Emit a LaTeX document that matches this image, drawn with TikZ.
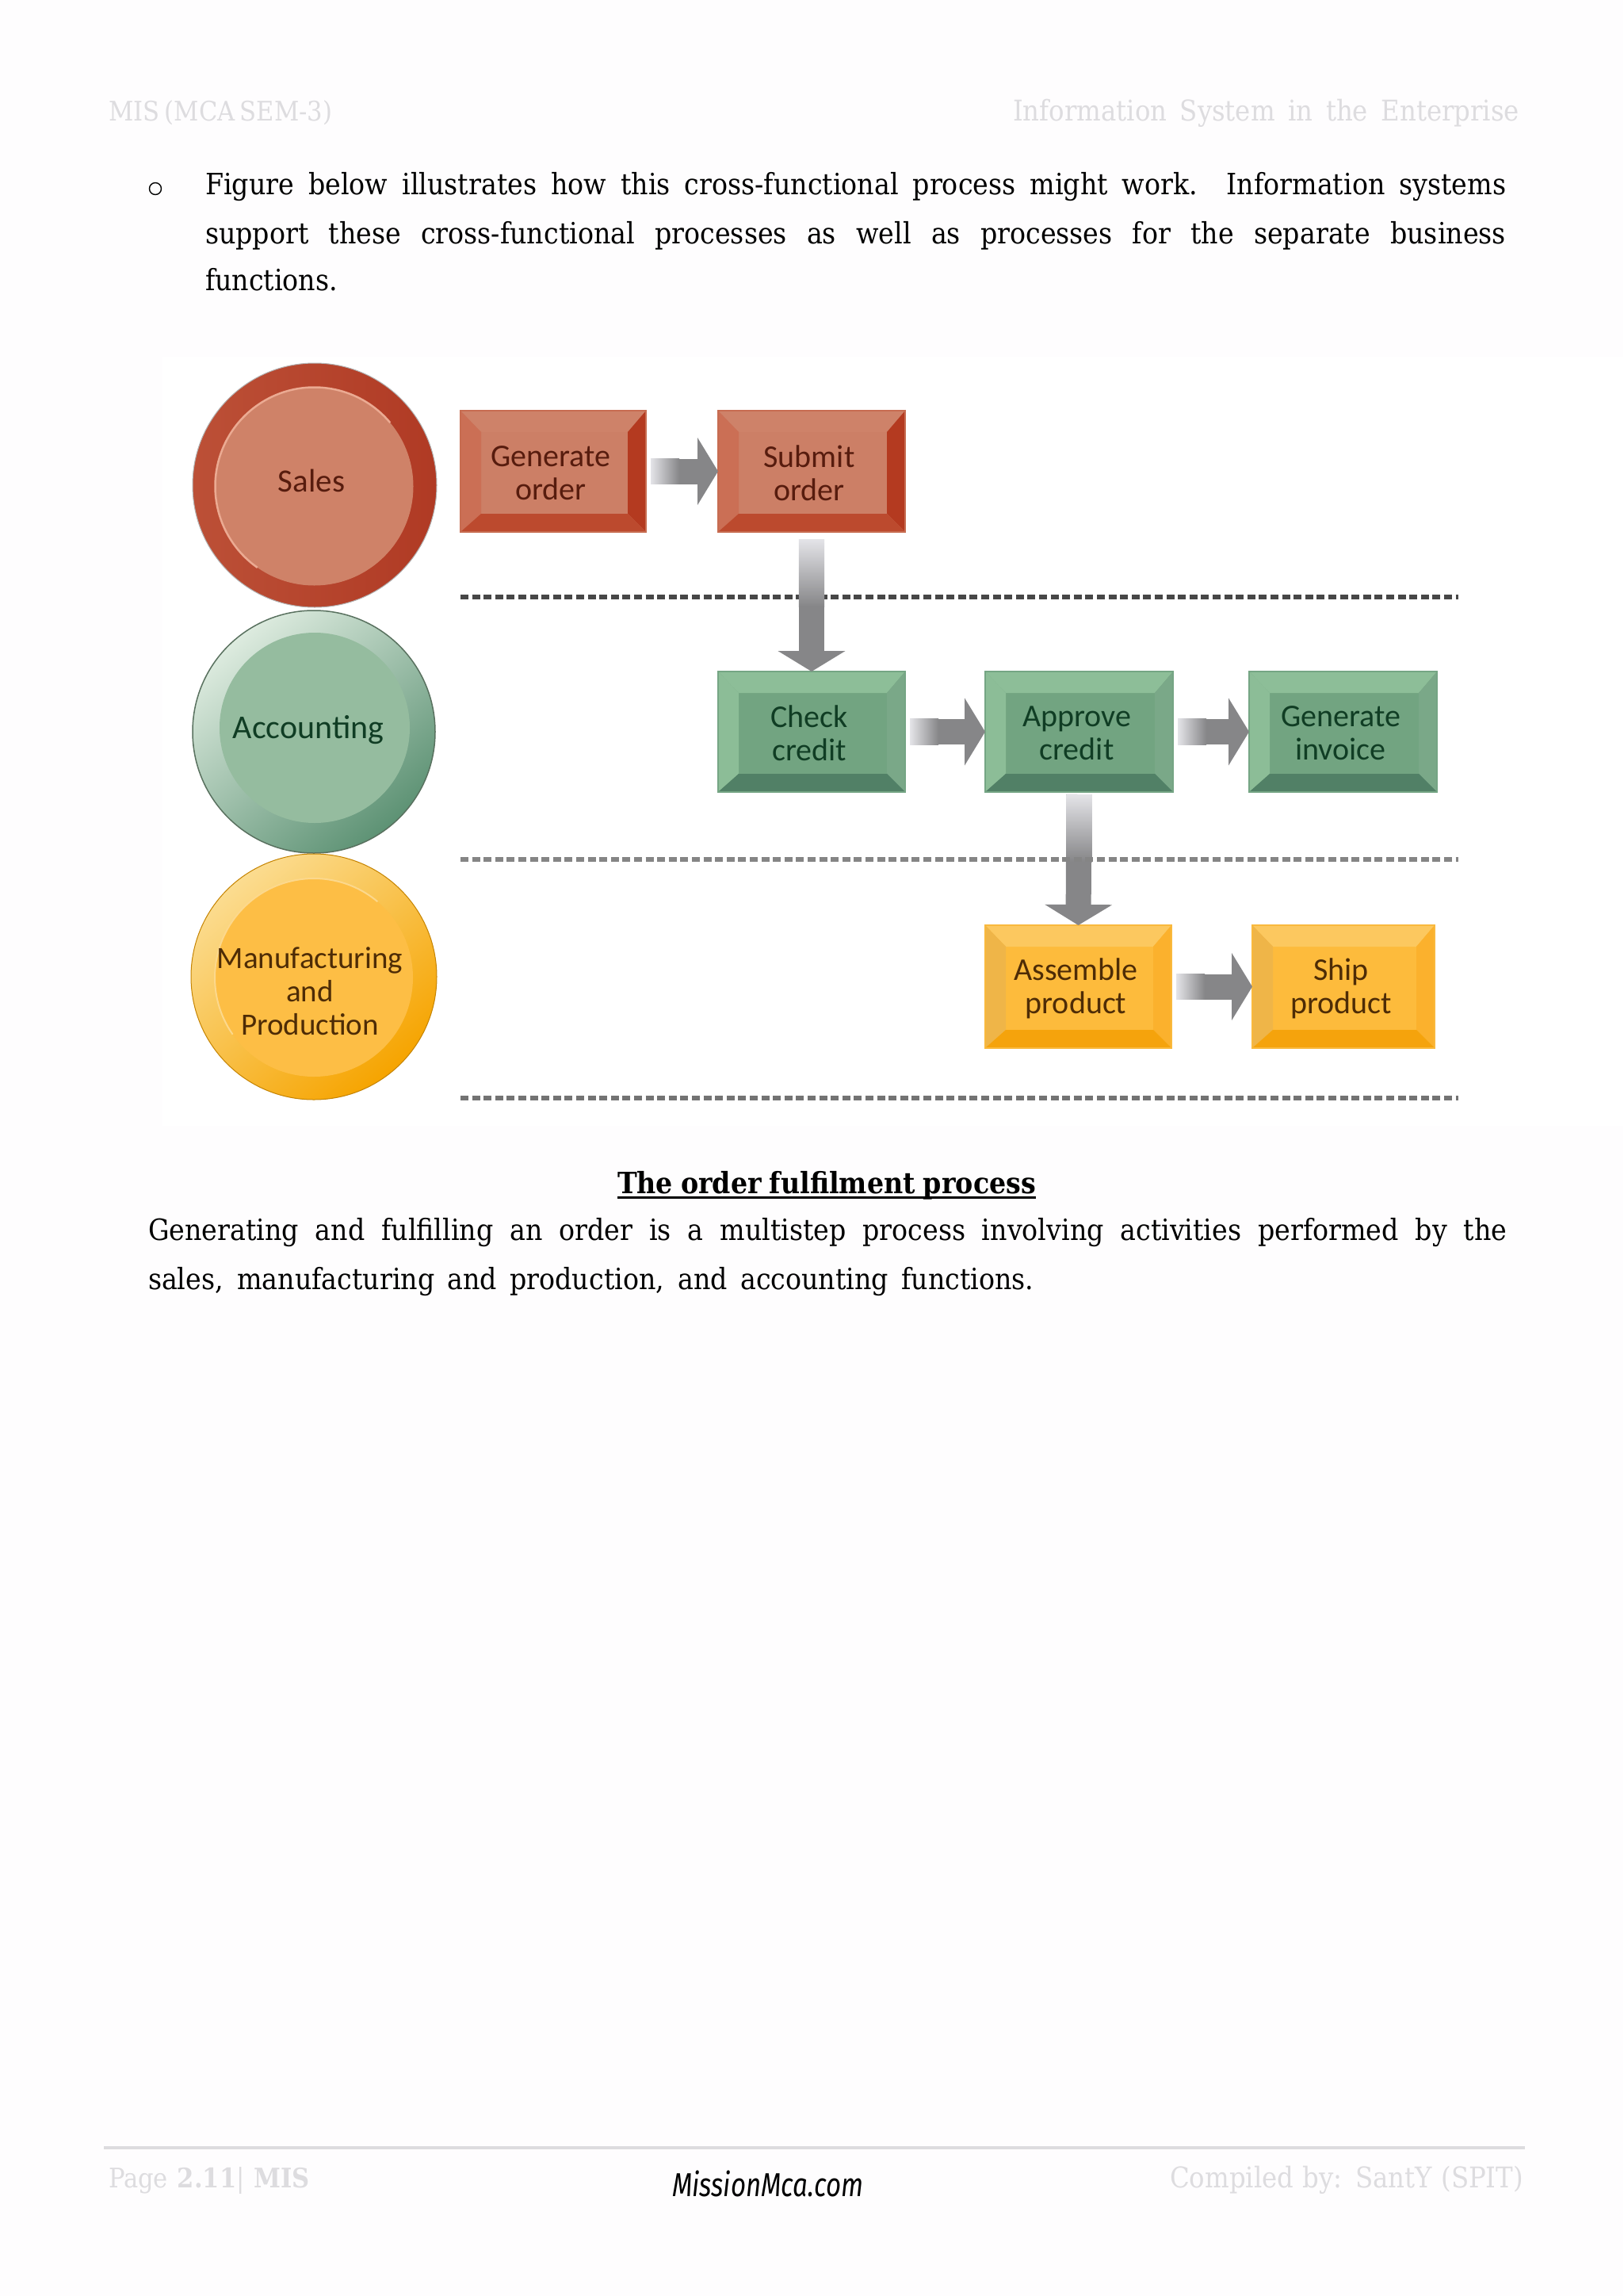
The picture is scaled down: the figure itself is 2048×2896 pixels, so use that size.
\documentclass[tikz,border=0pt]{standalone}
\usepackage{fontspec}
\usetikzlibrary{calc,arrows.meta}
\setmainfont{DejaVu Serif Condensed}
\newfontfamily\figfont{Carlito}
\newfontfamily\logofont{Fira Sans}
\definecolor{pagebg}{HTML}{FEFDFE}
\definecolor{hdr}{HTML}{DDDCDF}
\definecolor{arr}{HTML}{868688}
\definecolor{arrlight}{HTML}{E4E4E8}
\definecolor{rface}{HTML}{CC7F66}\definecolor{rtop}{HTML}{CE8269}\definecolor{rleft}{HTML}{CB6F55}\definecolor{rright}{HTML}{B43A20}\definecolor{rbot}{HTML}{BC4A2E}\definecolor{rtxt}{HTML}{571C0E}
\definecolor{gface}{HTML}{72A481}\definecolor{gtop}{HTML}{8DBE98}\definecolor{gleft}{HTML}{8CBD97}\definecolor{gright}{HTML}{7AA888}\definecolor{gbot}{HTML}{518066}\definecolor{gtxt}{HTML}{103D24}
\definecolor{yface}{HTML}{FDBB3C}\definecolor{ytop}{HTML}{FCC85F}\definecolor{yleft}{HTML}{EFB548}\definecolor{yright}{HTML}{FBB12D}\definecolor{ybot}{HTML}{F5A30C}\definecolor{ytxt}{HTML}{4E2C06}
\definecolor{rringa}{HTML}{BC5037}\definecolor{rringb}{HTML}{B03A24}\definecolor{rin}{HTML}{CF8268}\definecolor{redge}{HTML}{EBAA92}
\definecolor{gringa}{HTML}{DDEBDF}\definecolor{gringb}{HTML}{5D9274}\definecolor{gin}{HTML}{95BC9F}
\definecolor{yringa}{HTML}{FBDC90}\definecolor{yringb}{HTML}{F6A400}\definecolor{yin}{HTML}{FDBE45}\definecolor{yedge}{HTML}{FCD88C}
\tikzset{
 x=1pt,y=-1pt,
 txt/.style={anchor=base west,inner sep=0pt,outer sep=0pt},
 hd/.style={txt,text=hdr,font=\fontsize{34}{40}\selectfont},
 hdb/.style={txt,text=hdr,font=\fontsize{36}{40}\selectfont},
 body/.style={txt,text=black,font=\fontsize{37}{42}\selectfont},
 boxnode/.style={rectangle,inner sep=0pt,outer sep=0pt},
 ringnode/.style={circle,inner sep=0pt,outer sep=0pt,minimum size=#1},
 lab/.style={align=center,inner sep=0pt,font=\figfont\fontsize{40}{42}\selectfont},
 flow/.style={arr,line width=32pt,-{Triangle[length=26pt,width=84pt]}},
 lane/.style={line width=6pt,dash pattern=on 10pt off 4.6pt},
}
% name, cx, cy, w, h, colour prefix, text
\newcommand{\bevelbox}[7]{%
 \node[boxnode,minimum width=#4pt,minimum height=#5pt,fill=#6face] (#1) at (#2,#3) {};
 \fill[#6top] (#1.north west) -- (#1.north east) -- ($(#1.north east)+(-23,27)$) -- ($(#1.north west)+(26,27)$) -- cycle;
 \fill[#6left] (#1.north west) -- (#1.south west) -- ($(#1.south west)+(26,-23)$) -- ($(#1.north west)+(26,27)$) -- cycle;
 \fill[#6right] (#1.north east) -- (#1.south east) -- ($(#1.south east)+(-23,-23)$) -- ($(#1.north east)+(-23,27)$) -- cycle;
 \fill[#6bot] (#1.south west) -- (#1.south east) -- ($(#1.south east)+(-23,-23)$) -- ($(#1.south west)+(26,-23)$) -- cycle;
 \draw[#6top!60!#6bot,line width=1.2pt] (#1.north west) rectangle (#1.south east);
 \node[lab,text=#6txt] (#1t) at ($(#1.center)+(-3,2)$) {#7};
}
\newcommand{\hflow}[2]{%
 \draw[flow,shorten <=6pt] (#1.east) -- (#2.west);
 \path[left color=arrlight,right color=arr] ($(#1.east)+(6,-16.2)$) rectangle ($(#1.east)+(42,16.2)$);
}
\newcommand{\vflow}[3]{%
 \draw[flow,shorten <=#3pt] (#1.south) -- (#2.north);
 \path[top color=arrlight,bottom color=arr] ($(#1.south)+(-16.2,#3)$) rectangle ($(#1.south)+(16.2,#3+85)$);
}
\begin{document}
\begin{tikzpicture}
\useasboundingbox (0,0) rectangle (2048,2896);
\fill[pagebg] (0,0) rectangle (2048,2896);
\fill[white] (205,450) rectangle (2048,1420);

% header
\node[hd] (hl) at (137,152) {\makebox[282pt][s]{MIS (MCA SEM-3)}};
\node[hdb] (hr) at (1278,152) {\makebox[639pt][s]{Information System in the Enterprise}};

% intro
\node[circle,draw=black,line width=1.4pt,minimum size=15pt,inner sep=0pt] (bul) at (196,238) {};
\node[body] (l1) at (259,245) {\makebox[1641pt][s]{Figure below illustrates how this cross-functional process might work. Information systems}};
\node[body] (l2) at (259,307) {\makebox[1641pt][s]{support these cross-functional processes as well as processes for the separate business}};
\node[body] (l3) at (259,366) {functions.};

% lanes
\coordinate (d1a) at (581,753); \coordinate (d1b) at (1840,753);
\coordinate (d2a) at (581,1084); \coordinate (d2b) at (1840,1084);
\coordinate (d3a) at (581,1385); \coordinate (d3b) at (1840,1385);
\draw[lane,color=black!72] (d1a) -- (d1b);
\draw[lane,color=black!55] (d3a) -- (d3b);

% sales disc
\node[ringnode=308pt,left color=rringa,right color=rringb,draw=black!30,line width=1pt] (sales) at (397,612) {};
\node[ringnode=250pt,fill=rin] (salesi) at (396.5,613.5) {};
\draw[redge,line width=2.5pt] (salesi.40) arc[start angle=-40,end angle=-235,radius=125];
\node[lab,text=rtxt,font=\figfont\fontsize{41}{42}\selectfont] (salest) at (393,606) {Sales};

% accounting disc
\node[ringnode=306pt,top color=gringa,bottom color=gringb,shading angle=40,draw=black!40!gin,line width=1.5pt] (acc) at (396,923) {};
\node[ringnode=240pt,fill=gin] (acci) at (397,918) {};
\node[lab,text=gtxt,font=\figfont\fontsize{42}{42}\selectfont] (acct) at (389,921) {Accounting};

% manufacturing disc
\node[ringnode=310pt,top color=yringa,bottom color=yringb,shading angle=40,draw=yringb!80!black,line width=1pt] (man) at (396,1232) {};
\node[ringnode=250pt,fill=yin] (mani) at (396,1233) {};
\draw[yedge,line width=2pt] (mani.50) arc[start angle=-50,end angle=-215,radius=125];
\node[lab,text=ytxt,font=\figfont\fontsize{39}{42}\selectfont] (mant) at (391,1250) {Manufacturing\\and\\Production};

% boxes
\bevelbox{gen}{698}{594.5}{234}{153}{r}{Generate\\order}
\bevelbox{sub}{1024}{594.5}{236}{153}{r}{Submit\\order}
\bevelbox{chk}{1024}{923}{236}{152}{g}{Check\\credit}
\bevelbox{apr}{1361.5}{923}{237}{152}{g}{Approve\\credit}
\bevelbox{inv}{1694.5}{923}{237}{152}{g}{Generate\\invoice}
\bevelbox{asm}{1360.5}{1244.5}{235}{155}{y}{Assemble\\product}
\bevelbox{shp}{1695}{1244.5}{230}{155}{y}{Ship\\product}

% flows
\hflow{gen}{sub}
\vflow{sub}{chk}{9}
\hflow{chk}{apr}
\hflow{apr}{inv}
\vflow{apr}{asm}{3}
\hflow{asm}{shp}

\draw[lane,color=black!48] (d2a) -- (d2b);

% caption
\node[txt,font=\bfseries\fontsize{37}{40}\selectfont] (cap) at (779,1505) {\makebox[528pt][s]{The order fulfilment process}};
\draw[line width=3pt] (cap.base west) ++(0,5) coordinate (ua) -- ++(528,0) coordinate (ub);
\node[body] (p1) at (187,1564) {\makebox[1714pt][s]{Generating and fulfilling an order is a multistep process involving activities performed by the}};
\node[body] (p2) at (187,1626) {\makebox[1117pt][s]{sales, manufacturing and production, and accounting functions.}};

% footer
\coordinate (fa) at (131,2709); \coordinate (fb) at (1924,2709);
\draw[line width=3.5pt,color=hdr] (fa) -- (fb);
\node[hd] (fl) at (137,2759) {\makebox[254pt][s]{Page \textbf{2.11}| \textbf{MIS}}};
\node[txt,font=\logofont\itshape\fontsize{38}{40}\selectfont] (logo) at (848,2770) {\scalebox{0.87}[1.1]{MissionMca.com}};
\node[hdb] (fr) at (1476,2759) {\makebox[446pt][s]{Compiled by: SantY (SPIT)}};
\end{tikzpicture}
\end{document}
